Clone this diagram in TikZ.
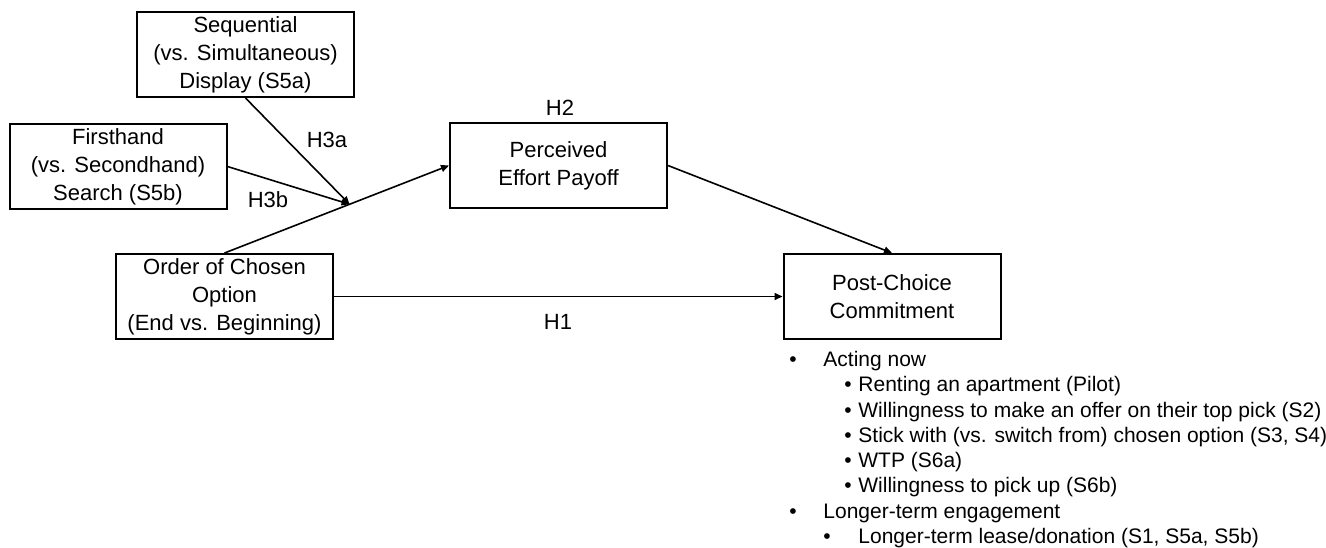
\documentclass[tikz,border=0pt]{standalone}
\usepackage{fontspec}
\setmainfont{Liberation Sans}
\usetikzlibrary{arrows.meta}

\begin{document}
\begin{tikzpicture}[x=0.5pt,y=-0.5pt,>={Triangle[length=4pt,width=3.5pt]},
    every node/.style={font=\fontsize{11}{14}\selectfont},
    varbox/.style={draw,line width=1pt,minimum width=108.5pt,minimum height=42.5pt,
      align=center,inner sep=0pt},
    link/.style={->,line width=0.8pt},
    listtxt/.style={anchor=base west,inner sep=0pt,font=\fontsize{10.5}{13}\selectfont},
    listdot/.style={anchor=base,inner sep=0pt,font=\fontsize{10.5}{13}\selectfont}]
  \useasboundingbox (0,0) rectangle (1326,547);

  % variables
  \node[varbox] (seq) at (245.5,54.5) {Sequential\\(vs. Simultaneous)\\Display (S5a)};
  \node[varbox] (first) at (118,166.5) {Firsthand\\(vs. Secondhand)\\Search (S5b)};
  \node[varbox] (order) at (224.5,296.5) {Order of Chosen\\Option\\(End vs. Beginning)};
  \node[varbox] (effort) at (558.5,165.5) {Perceived\\Effort Payoff};
  \node[varbox] (commit) at (892,296.5) {Post-Choice\\Commitment};

  % paths
  \draw[link] (order.north) -- (effort.west) coordinate[pos=0.557] (mod);
  \draw[link] (seq.south) -- (mod);
  \draw[link] (first.east) -- (mod);
  \draw[link] (effort.east) -- (commit.north);
  \draw[link] (order.east) -- (commit.west);

  \node (h3a) at (327,140) {H3a};
  \node (h3b) at (268,200) {H3b};
  \node (h2) at (560,108) {H2};
  \node (h1) at (558,322) {H1};

  % measures
  \node[listdot] (d1) at (793,366.7) {•};
  \node[listtxt] (now) at (823,366.7) {Acting now};
  \foreach \txt [count=\i] in {Renting an apartment (Pilot),
      Willingness to make an offer on their top pick (S2),
      {Stick with (vs. switch from) chosen option (S3, S4)},
      WTP (S6a), Willingness to pick up (S6b)}{
    \node[listdot] (dd\i) at (848,366.7+\i*25.2) {•};
    \node[listtxt] (act\i) at (858,366.7+\i*25.2) {\txt};
  }
  \node[listdot] (d2) at (793,518.1) {•};
  \node[listtxt] (later) at (823,518.1) {Longer-term engagement};
  \node[listdot] (dd6) at (827,543.3) {•};
  \node[listtxt] (lease) at (858,543.3) {Longer-term lease/donation (S1, S5a, S5b)};
\end{tikzpicture}
\end{document}
